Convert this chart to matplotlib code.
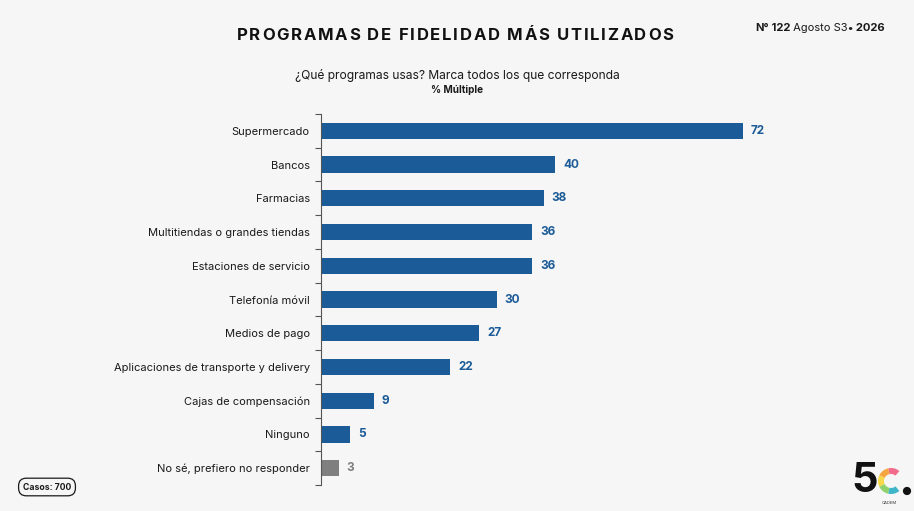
import matplotlib as mpl

mpl.use("Agg")
import matplotlib.pyplot as plt  # noqa: E402
from matplotlib.patches import Wedge, Circle  # noqa: E402

categories = [
    "Supermercado",
    "Bancos",
    "Farmacias",
    "Multitiendas o grandes tiendas",
    "Estaciones de servicio",
    "Telefonía móvil",
    "Medios de pago",
    "Aplicaciones de transporte y delivery",
    "Cajas de compensación",
    "Ninguno",
    "No sé, prefiero no responder",
]
values = [72, 40, 38, 36, 36, 30, 27, 22, 9, 5, 3]
highlight = [True] * 10 + [False]

TITLE = "PROGRAMAS DE FIDELIDAD MÁS UTILIZADOS"
QUESTION = "¿Qué programas usas? Marca todos los que corresponda"
NOTE = "% Múltiple"
CASES = "Casos: 700"

BG = "#f6f6f6"
BLUE = "#1b5b97"
GRAY = "#7f7f7f"
INK = "#1a1a1a"
FONT = ["Inter", "DejaVu Sans"]

plt.rcParams.update({"font.family": FONT})

W, H = 914, 511
fig = plt.figure(figsize=(W / 100, H / 100), dpi=100, facecolor=BG)


def fx(px):
    return px / W


def fy(py):
    return 1 - py / H


ax = fig.add_axes([fx(321), fy(485), fx(848) - fx(321), fy(114) - fy(485)])
ax.set_facecolor("none")
colors = [BLUE if h else GRAY for h in highlight]
ypos = list(range(len(categories)))
ax.barh(ypos, values, height=0.48, color=colors, zorder=2)
for y, v, c in zip(ypos, values, colors):
    ax.text(v + 1.4, y, f"{v}", va="center", ha="left", fontsize=8.5,
            fontweight="bold", color=c)

ax.set_xlim(0, 90)
ax.set_ylim(len(categories) - 0.5, -0.5)
ax.set_yticks(ypos)
ax.set_yticklabels(categories, fontsize=8, color=INK)
ax.set_yticks([i - 0.5 for i in range(len(categories) + 1)], minor=True)
ax.tick_params(axis="y", which="major", length=0, pad=8)
ax.tick_params(axis="y", which="minor", length=4, width=0.8, color="#555555")
ax.set_xticks([])
for side in ("top", "right", "bottom"):
    ax.spines[side].set_visible(False)
ax.spines["left"].set_color("#555555")
ax.spines["left"].set_linewidth(0.8)

# title with wide letter spacing, one character at a time
renderer = fig.canvas.get_renderer()
title_props = dict(fontsize=12, fontweight="bold", color="#111111",
                   va="center", ha="left")
gap = 1.7
widths = []
for ch in TITLE:
    t = fig.text(0, 0, ch, **title_props)
    widths.append(t.get_window_extent(renderer).width)
    t.remove()
total = sum(widths) + gap * (len(TITLE) - 1)
x = 455 - total / 2
for ch, w in zip(TITLE, widths):
    fig.text(fx(x), fy(35), ch, **title_props)
    x += w + gap

fig.text(0.5, fy(76), QUESTION, ha="center", va="center", fontsize=8.7,
         color=INK)
fig.text(0.5, fy(90), NOTE, ha="center", va="center", fontsize=7.2,
         fontweight="bold", color=INK)

# issue stamp, top right
parts = [("N°", "bold"), (" 122", "bold"), (" Agosto S3", "normal"),
         ("• 2026", "bold")]
x = 755
for s, wt in parts:
    t = fig.text(fx(x), fy(28), s, ha="left", va="center", fontsize=8,
                 fontweight=wt, color=INK)
    x += t.get_window_extent(renderer).width

# cases pill
fig.text(fx(47), fy(487), CASES, ha="center", va="center", fontsize=6.2,
         fontweight="bold", color=INK,
         bbox=dict(boxstyle="round,pad=0.5,rounding_size=0.9", fc="none",
                   ec=INK, lw=0.9))

# logo
lax = fig.add_axes([fx(850), fy(508), fx(66), fy(460) - fy(508)])
lax.set_xlim(0, 66)
lax.set_ylim(0, 48)
lax.set_aspect("equal")
lax.axis("off")
lax.text(15, 27, "5", ha="center", va="center", fontsize=30,
         fontweight="bold", color="#111111")
arc_colors = ["#f26b8a", "#f7a541", "#f5d94a", "#8fd16a", "#3fb5c9"]
a0 = 50
for c in arc_colors:
    lax.add_patch(Wedge((41, 27), 13, a0, a0 + 52, width=6, color=c, lw=0))
    a0 += 52
lax.add_patch(Circle((57, 17), 3.4, color="#111111"))
lax.text(39, 5, "CADEM", ha="center", va="center", fontsize=3,
         color="#333333")

fig.savefig("out.png", dpi=100, facecolor=BG)
